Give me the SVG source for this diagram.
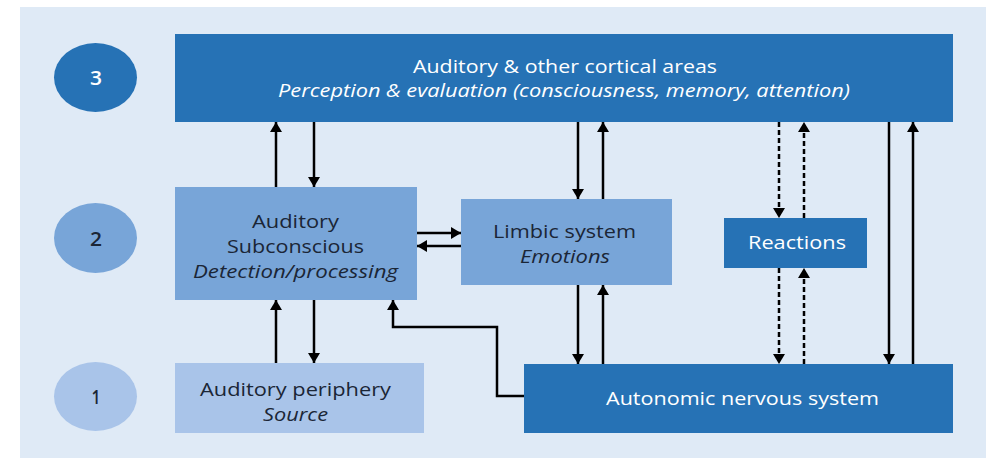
<svg xmlns="http://www.w3.org/2000/svg" width="989" height="458" viewBox="0 0 989 458">
<defs>
<marker id="ah" viewBox="0 0 10 12" refX="10" refY="6" markerWidth="10" markerHeight="12" markerUnits="userSpaceOnUse" orient="auto">
<path d="M0,0 L10,6 L0,12 z" fill="#000"/>
</marker>
<style>
text{font-family:"Open Sans","Noto Sans",sans-serif;text-anchor:middle;font-weight:500}
.t{font-size:18.5px}
.n{font-size:20px;font-weight:600}
.w{fill:#fff}
.d{fill:#1b2636}
.i{font-style:italic}
.c{stroke:#000;stroke-width:2.5;fill:none}
.a{marker-end:url(#ah)}
.ds{stroke-dasharray:5,3}
.dark{fill:#2672b5}
.mid{fill:#78a5d8}
.light{fill:#a9c4e9}
</style>
</defs>
<rect x="0" y="0" width="989" height="458" fill="#fff"/>
<rect x="20" y="7" width="966" height="451" fill="#dfeaf6"/>
<g id="level3"><ellipse cx="95.5" cy="77.5" rx="41.5" ry="34.5" class="dark"/><text x="96" y="85" class="n w" textLength="12" lengthAdjust="spacingAndGlyphs">3</text></g>
<g id="level2"><ellipse cx="95.5" cy="238" rx="41.5" ry="35" class="mid"/><text x="96" y="245.5" class="n d" textLength="12" lengthAdjust="spacingAndGlyphs">2</text></g>
<g id="level1"><ellipse cx="95.5" cy="396.5" rx="41.5" ry="34.5" class="light"/><text x="96" y="404" class="n d" textLength="9" lengthAdjust="spacingAndGlyphs">1</text></g>
<g id="cortical"><rect x="175" y="34" width="778" height="88" class="dark"/>
<text x="565" y="73" class="t w" textLength="304" lengthAdjust="spacingAndGlyphs">Auditory &amp; other cortical areas</text>
<text x="564" y="97" class="t w i" textLength="572" lengthAdjust="spacingAndGlyphs">Perception &amp; evaluation (consciousness, memory, attention)</text></g>
<g id="subconscious"><rect x="175" y="187" width="242" height="113" class="mid"/>
<text x="295.5" y="228" class="t d" textLength="87" lengthAdjust="spacingAndGlyphs">Auditory</text>
<text x="295.5" y="253" class="t d" textLength="137" lengthAdjust="spacingAndGlyphs">Subconscious</text>
<text x="295.5" y="277.5" class="t d i" textLength="205" lengthAdjust="spacingAndGlyphs">Detection/processing</text></g>
<g id="limbic"><rect x="461" y="199" width="211" height="86" class="mid"/>
<text x="564.5" y="237.5" class="t d" textLength="143" lengthAdjust="spacingAndGlyphs">Limbic system</text>
<text x="565" y="262.5" class="t d i" textLength="90" lengthAdjust="spacingAndGlyphs">Emotions</text></g>
<g id="reactions"><rect x="724" y="218" width="143" height="50" class="dark"/>
<text x="797" y="249" class="t w" textLength="98" lengthAdjust="spacingAndGlyphs">Reactions</text></g>
<g id="periphery"><rect x="175" y="363" width="249" height="70" class="light"/>
<text x="295.5" y="395.5" class="t d" textLength="191" lengthAdjust="spacingAndGlyphs">Auditory periphery</text>
<text x="295.5" y="420.5" class="t d i" textLength="65" lengthAdjust="spacingAndGlyphs">Source</text></g>
<g id="autonomic"><rect x="524" y="364" width="429" height="69" class="dark"/>
<text x="742.5" y="405" class="t w" textLength="273" lengthAdjust="spacingAndGlyphs">Autonomic nervous system</text></g>
<g id="connectors">
<line x1="276" y1="187" x2="276" y2="122" class="c a"/>
<line x1="314" y1="122" x2="314" y2="187" class="c a"/>
<line x1="276" y1="363" x2="276" y2="300" class="c a"/>
<line x1="314" y1="300" x2="314" y2="363" class="c a"/>
<line x1="417" y1="233" x2="461" y2="233" class="c a"/>
<line x1="461" y1="246" x2="417" y2="246" class="c a"/>
<line x1="578" y1="122" x2="578" y2="199" class="c a"/>
<line x1="603" y1="199" x2="603" y2="122" class="c a"/>
<line x1="578" y1="285" x2="578" y2="364" class="c a"/>
<line x1="603" y1="364" x2="603" y2="285" class="c a"/>
<line x1="779" y1="122" x2="779" y2="218" class="c a ds"/>
<line x1="804" y1="218" x2="804" y2="122" class="c a ds"/>
<line x1="779" y1="268" x2="779" y2="364" class="c a ds"/>
<line x1="804" y1="364" x2="804" y2="268" class="c a ds"/>
<line x1="889" y1="122" x2="889" y2="364" class="c a"/>
<line x1="913" y1="364" x2="913" y2="122" class="c a"/>
<polyline points="524,396 497,396 497,327 393,327 393,300" class="c a"/>
</g>
</svg>
